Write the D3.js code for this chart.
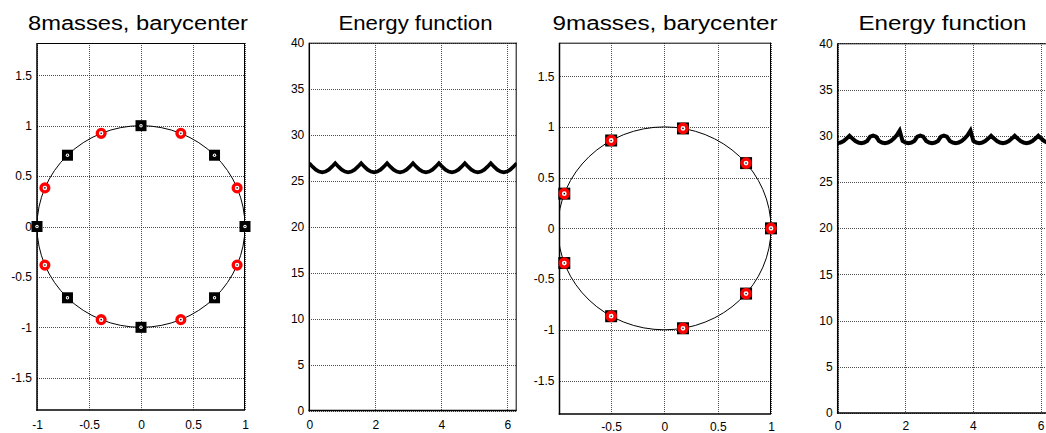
<!DOCTYPE html>
<html>
<head>
<meta charset="utf-8">
<script src="https://cdn.jsdelivr.net/npm/d3@7"></script>
<style>
  html, body { margin: 0; padding: 0; background: #fff; }
  svg { display: block; font-family: "Liberation Sans", Arial, sans-serif; }
</style>
</head>
<body>
<svg id="chart" width="1046" height="433"></svg>
<script>
// ---------------- DATA ----------------
const titles = ["8masses, barycenter", "Energy function", "9masses, barycenter", "Energy function"];

// 8 masses: black squares and red circles (unit circle positions)
const sq8X = [1, 0.707, 0, -0.707, -1, -0.707, 0, 0.707];
const sq8Y = [0, 0.707, 1, 0.707, 0, -0.707, -1, -0.707];
const ci8X = [0.924, 0.383, -0.383, -0.924, -0.924, -0.383, 0.383, 0.924];
const ci8Y = [0.383, 0.924, 0.924, 0.383, -0.383, -0.924, -0.924, -0.383];

// 9 masses: squares and circles coincide
const m9X = [1, 0.766, 0.174, -0.5, -0.94, -0.94, -0.5, 0.174, 0.766];
const m9Y = [0, 0.643, 0.985, 0.866, 0.342, -0.342, -0.866, -0.985, -0.643];

// reference circle (centre, radius)
const circleCenter = [0, 0];
const circleRadius = 1;

// Energy function, 8 masses: samples every pi/32 on [0, 2pi]
const energy8Step = Math.PI / 32;
const energy8 = [
  26.9,26.52,26.19,25.98,25.9,25.98,26.19,26.52,
  26.9,26.52,26.19,25.98,25.9,25.98,26.19,26.52,
  26.9,26.52,26.19,25.98,25.9,25.98,26.19,26.52,
  26.9,26.52,26.19,25.98,25.9,25.98,26.19,26.52,
  26.9,26.52,26.19,25.98,25.9,25.98,26.19,26.52,
  26.9,26.52,26.19,25.98,25.9,25.98,26.19,26.52,
  26.9,26.52,26.19,25.98,25.9,25.98,26.19,26.52,
  26.9,26.52,26.19,25.98,25.9,25.98,26.19,26.52,
  26.9
];

// Energy function, 9 masses: samples every pi/36 on [0, 2pi]
const energy9Step = Math.PI / 36;
const energy9 = [
  29.2,29.26,29.43,29.69,30.0,29.69,29.43,29.26,
  29.2,29.26,29.43,29.9,30.02,29.9,29.43,29.26,
  29.2,29.26,29.43,29.69,30.05,30.55,29.43,29.26,
  29.2,29.26,29.43,29.9,30.02,29.9,29.43,29.26,
  29.2,29.26,29.43,29.9,30.02,29.9,29.43,29.26,
  29.2,29.26,29.43,29.69,30.05,30.55,29.43,29.26,
  29.2,29.26,29.43,29.69,30.0,29.69,29.43,29.26,
  29.2,29.26,29.43,29.69,30.0,29.69,29.43,29.26,
  29.2,29.26,29.43,29.69,30.0,29.69,29.43,29.26,
  29.2
];

// ticks
const xTicksP1 = [-1, -0.5, 0, 0.5, 1];
const yTicksCircle = [-1.5, -1, -0.5, 0, 0.5, 1, 1.5];
const xTicksP3 = [-0.5, 0, 0.5, 1];
const xTicksEnergy = [0, 2, 4, 6];
const yTicksEnergy = [0, 5, 10, 15, 20, 25, 30, 35, 40];

// ---------------- LAYOUT ----------------
const TWO_PI = 2 * Math.PI;
const panels = [
  { title: titles[0], titleLen: 220, titleX: 138, xDomain: [-1, 1], xRange: [37, 245], yDomain: [-1.82, 1.82], yRange: [410, 43],
    xTicks: xTicksP1, yTicks: yTicksCircle, kind: "masses8", xPad: 10 },
  { title: titles[1], titleLen: 154, titleX: 415.5, xDomain: [0, TWO_PI], xRange: [309.3, 516.7], yDomain: [0, 40], yRange: [410.5, 42.7],
    xTicks: xTicksEnergy, yTicks: yTicksEnergy, kind: "energy8", xPad: 9.5 },
  { title: titles[2], titleLen: 225, titleX: 665, xDomain: [-0.985, 1], xRange: [559.5, 771], yDomain: [-1.83, 1.83], yRange: [414, 42.7],
    xTicks: xTicksP3, yTicks: yTicksCircle, kind: "masses9", xPad: 8.5 },
  { title: titles[3], titleLen: 168, titleX: 942.5, xDomain: [0, TWO_PI], xRange: [837.7, 1050.1], yDomain: [0, 40], yRange: [413, 43.3],
    xTicks: xTicksEnergy, yTicks: yTicksEnergy, kind: "energy9", xPad: 8.5 }
];

const svg = d3.select("#chart");
const defs = svg.append("defs");

function drawSquare(g, cx, cy, size) {
  g.append("rect").attr("x", cx - size / 2).attr("y", cy - size / 2)
    .attr("width", size).attr("height", size).attr("fill", "#000");
  g.append("circle").attr("cx", cx).attr("cy", cy).attr("r", 1.7).attr("fill", "#fff");
  g.append("circle").attr("cx", cx).attr("cy", cy).attr("r", 0.7).attr("fill", "#000");
}
function drawRing(g, cx, cy, r, sw) {
  g.append("circle").attr("cx", cx).attr("cy", cy).attr("r", r)
    .attr("fill", "#fff").attr("stroke", "#ff0000").attr("stroke-width", sw);
  g.append("circle").attr("cx", cx).attr("cy", cy).attr("r", 0.8).attr("fill", "#000");
}

panels.forEach((p, i) => {
  const x = d3.scaleLinear().domain(p.xDomain).range(p.xRange);
  const y = d3.scaleLinear().domain(p.yDomain).range(p.yRange);
  const g = svg.append("g");
  const x0 = p.xRange[0], x1 = p.xRange[1], yb = p.yRange[0], yt = p.yRange[1];

  defs.append("clipPath").attr("id", "clip" + i)
    .append("rect").attr("x", x0).attr("y", yt).attr("width", x1 - x0).attr("height", yb - yt);

  // background
  g.append("rect").attr("x", x0).attr("y", yt).attr("width", x1 - x0).attr("height", yb - yt).attr("fill", "#fff");

  // grid
  const grid = g.append("g").attr("stroke", "#222").attr("stroke-width", 1)
    .attr("stroke-dasharray", "1,1").attr("stroke-opacity", 0.8).attr("shape-rendering", "crispEdges");
  grid.selectAll(".gx").data(p.xTicks).join("line")
    .attr("x1", d => Math.round(x(d)) + 0.5).attr("x2", d => Math.round(x(d)) + 0.5)
    .attr("y1", yt).attr("y2", yb);
  grid.selectAll(".gy").data(p.yTicks).join("line")
    .attr("y1", d => Math.round(y(d)) + 0.5).attr("y2", d => Math.round(y(d)) + 0.5)
    .attr("x1", x0).attr("x2", x1);

  // tick labels via d3 axes
  const ax = g.append("g").attr("transform", `translate(0,${yb})`)
    .call(d3.axisBottom(x).tickValues(p.xTicks).tickSize(0).tickPadding(p.xPad).tickFormat(d => String(d)));
  const ay = g.append("g").attr("transform", `translate(${x0},0)`)
    .call(d3.axisLeft(y).tickValues(p.yTicks).tickSize(0).tickPadding(5).tickFormat(d => String(d)));
  [ax, ay].forEach(a => {
    a.select(".domain").remove();
    a.selectAll("text").attr("font-size", 12).attr("fill", "#000")
      .attr("font-family", "'Liberation Sans', Arial, sans-serif");
  });

  // data
  const plot = g.append("g").attr("clip-path", `url(#clip${i})`);
  const marks = g.append("g");
  if (p.kind === "masses8" || p.kind === "masses9") {
    plot.append("ellipse")
      .attr("cx", x(circleCenter[0])).attr("cy", y(circleCenter[1]))
      .attr("rx", x(circleCenter[0] + circleRadius) - x(circleCenter[0]))
      .attr("ry", y(circleCenter[1]) - y(circleCenter[1] + circleRadius))
      .attr("fill", "none").attr("stroke", "#000").attr("stroke-width", 1);
  }
  if (p.kind === "masses8") {
    sq8X.forEach((v, k) => drawSquare(marks, x(v), y(sq8Y[k]), 11));
    ci8X.forEach((v, k) => drawRing(marks, x(v), y(ci8Y[k]), 3.9, 3.3));
  }
  if (p.kind === "masses9") {
    m9X.forEach((v, k) => drawSquare(marks, x(v), y(m9Y[k]), 12));
    m9X.forEach((v, k) => drawRing(marks, x(v), y(m9Y[k]), 4.1, 3.4));
  }
  if (p.kind === "energy8" || p.kind === "energy9") {
    const vals = p.kind === "energy8" ? energy8 : energy9;
    const step = p.kind === "energy8" ? energy8Step : energy9Step;
    const line = d3.line().x((d, k) => x(k * step)).y(d => y(d));
    plot.append("path").datum(vals).attr("d", line)
      .attr("fill", "none").attr("stroke", "#000").attr("stroke-width", p.kind === "energy8" ? 3.7 : 4)
      .attr("stroke-linejoin", "miter").attr("stroke-linecap", "butt");
  }

  // box
  const box = g.append("g").attr("stroke", "#000").attr("fill", "none");
  box.append("line").attr("x1", x0).attr("x2", x1).attr("y1", yt + 0.5).attr("y2", yt + 0.5).attr("stroke-width", 1);
  box.append("line").attr("x1", x1 - 0.5).attr("x2", x1 - 0.5).attr("y1", yt).attr("y2", yb).attr("stroke-width", 1);
  box.append("line").attr("x1", x0).attr("x2", x0).attr("y1", yt).attr("y2", yb + 0.75).attr("stroke-width", 1.5);
  box.append("line").attr("x1", x0 - 0.75).attr("x2", x1).attr("y1", yb).attr("y2", yb).attr("stroke-width", 1.5);

  // markers above the box
  marks.raise();

  // title
  g.append("text").attr("x", p.titleX).attr("y", 30)
    .attr("text-anchor", "middle").attr("font-size", 20).attr("fill", "#000")
    .attr("textLength", p.titleLen).attr("lengthAdjust", "spacingAndGlyphs")
    .text(p.title);
});
</script>
</body>
</html>
